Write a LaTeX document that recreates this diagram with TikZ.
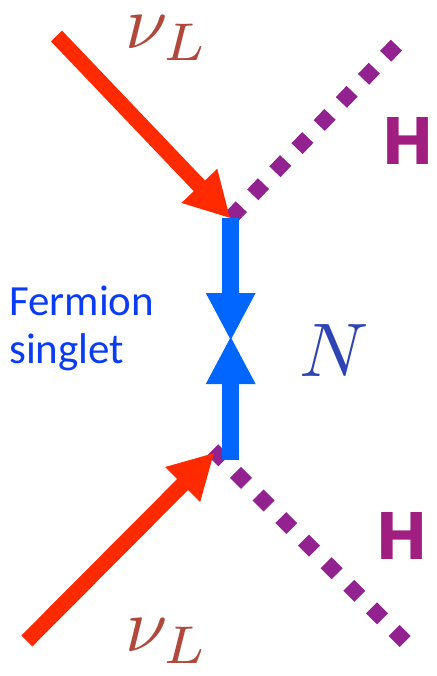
\documentclass[tikz,border=0pt]{standalone}
\usepackage{fontspec}
\setmainfont{Carlito}
\newfontfamily\hfont{Poppins}
\usetikzlibrary{arrows.meta}
\definecolor{redarrow}{HTML}{FF2A00}
\definecolor{bluearrow}{HTML}{0066FF}
\definecolor{scalar}{HTML}{92228F}
\definecolor{hlabel}{HTML}{A01E80}
\definecolor{nulabel}{HTML}{B0483C}
\definecolor{nlabel}{HTML}{2F44B4}
\definecolor{fermion}{HTML}{0A3CF5}
\tikzset{
  lepton/.style={draw=redarrow,line width=15.5pt,-{Triangle[length=45pt,width=46pt]}},
  singlet/.style={draw=bluearrow,line width=17pt,-{Triangle[length=48pt,width=46pt]}},
  higgs/.style={draw=scalar,line width=15.5pt,dash pattern=on 15.5pt off 16.5pt},
  mathlabel/.style={inner sep=0pt,scale=7.6,transform shape=false},
  hletter/.style={inner sep=0pt,anchor=base,text=hlabel,font=\hfont\bfseries\fontsize{67}{67}\selectfont}
}
\begin{document}
\begin{tikzpicture}[x=1pt,y=-1pt]
\useasboundingbox[fill=white] (0,0) rectangle (436,676);
\coordinate (ha) at (230.6,217.9);
\coordinate (hb) at (396.4,45.1);
\coordinate (hc) at (212.8,449.8);
\coordinate (hd) at (405.2,641.5);
\coordinate (la) at (56.5,36);
\coordinate (lb) at (230.4,218.4);
\coordinate (lc) at (26.8,641);
\coordinate (ld) at (214.4,452.6);
\coordinate (ba) at (230.7,218);
\coordinate (bb) at (230.7,341);
\coordinate (bc) at (230.7,460);
\coordinate (bd) at (230.7,336);
\draw[higgs] (ha) -- (hb);
\draw[higgs] (hc) -- (hd);
\draw[lepton] (la) -- (lb);
\draw[lepton] (lc) -- (ld);
\draw[singlet] (ba) -- (bb);
\draw[singlet] (bc) -- (bd);
\node[mathlabel,text=nulabel] (nutop) at (167,38) {$\nu_L$};
\node[mathlabel,text=nulabel] (nubot) at (167,641) {$\nu_L$};
\node[mathlabel,text=nlabel] (nn) at (334,351) {$N$};
\node[hletter] (htop) at (408,165) {H};
\node[hletter] (hbot) at (402,559) {H};
\node[inner sep=0pt,anchor=west,align=left,text=fermion,font=\fontsize{43}{48}\selectfont] (ferm) at (9,328) {Fermion\\singlet};
\end{tikzpicture}
\end{document}
